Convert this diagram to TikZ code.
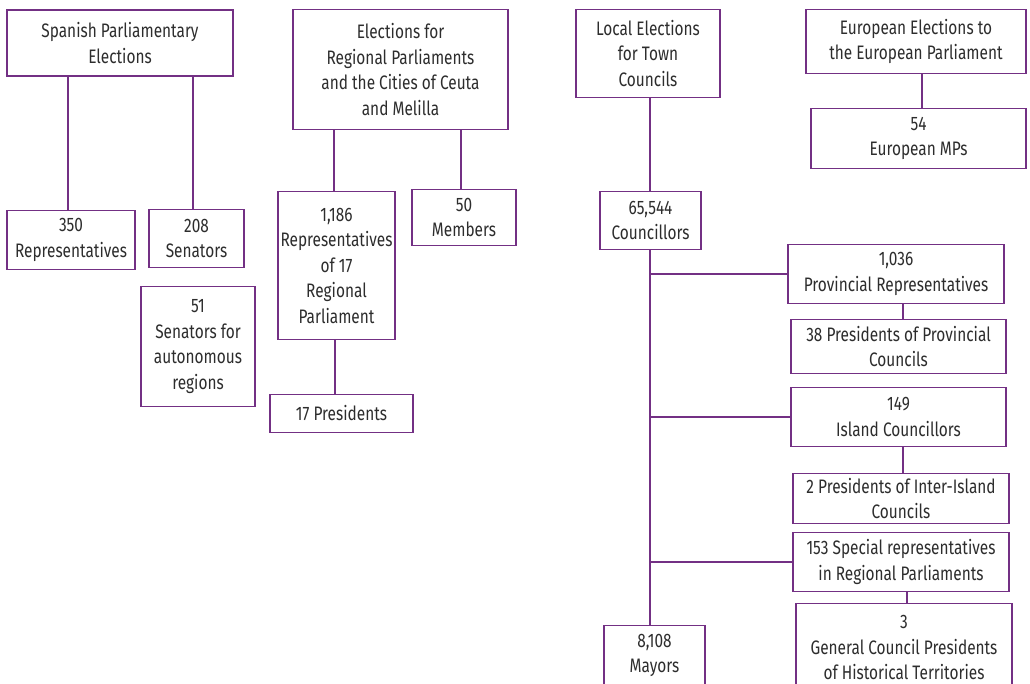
\documentclass[tikz,border=0pt]{standalone}
\usepackage{fontspec}
\setmainfont{Fira Sans}[FakeStretch=0.79]
\definecolor{frame}{RGB}{115,48,132}
\definecolor{txt}{RGB}{45,45,45}
\tikzset{
  box/.style={draw=frame, line width=1.6pt, fill=white, align=center, text=txt,
    inner sep=0pt, font=\fontsize{19.5}{25.5}\selectfont},
  link/.style={draw=frame, line width=1.6pt}
}
\begin{document}
\begin{tikzpicture}[x=1pt,y=-1pt]
\useasboundingbox (0,0) rectangle (1030,683);
\clip (0,0) rectangle (1030,683);
% first column
\node[box, minimum width=226pt, minimum height=66pt] (spe) at (120,43) {Spanish Parliamentary\\Elections};
\node[box, minimum width=128pt, minimum height=59pt] (rep) at (71,240) {350\\Representatives};
\node[box, minimum width=95pt, minimum height=58pt] (sen) at (196.5,238.5) {208\\Senators};
\node[box, minimum width=114pt, minimum height=120pt] (aut) at (198,346.5) {51\\Senators for\\autonomous\\regions};
% second column
\node[box, minimum width=215pt, minimum height=120pt] (reg) at (400.5,69.5) {Elections for\\Regional Parliaments\\and the Cities of Ceuta\\and Melilla};
\node[box, minimum width=117pt, minimum height=148pt] (rrep) at (336.5,265.5) {1,186\\Representatives\\of 17\\Regional\\Parliament};
\node[box, minimum width=104pt, minimum height=56pt] (mem) at (464,217.5) {50\\Members};
\node[box, minimum width=143pt, minimum height=38pt] (pres) at (341.5,413.5) {17 Presidents};
% third column
\node[box, minimum width=144pt, minimum height=88pt] (loc) at (648,53.5) {Local Elections\\for Town\\Councils};
\node[box, minimum width=101pt, minimum height=58pt] (cou) at (650.5,220.5) {65,544\\Councillors};
\node[box, minimum width=101pt, minimum height=60pt] (may) at (654.5,655.5) {8,108\\Mayors};
\node[box, minimum width=216pt, minimum height=59pt] (prov) at (896,274) {1,036\\Provincial Representatives};
\node[box, minimum width=215pt, minimum height=54pt] (pprov) at (898.5,346.5) {38 Presidents of Provincial\\Councils};
\node[box, minimum width=215pt, minimum height=59pt] (isl) at (898.5,417) {149\\Island Councillors};
\node[box, minimum width=216pt, minimum height=50pt] (pisl) at (901,498.5) {2 Presidents of Inter-Island\\Councils};
\node[box, minimum width=216pt, minimum height=59pt] (spec) at (901,562) {153 Special representatives\\in Regional Parliaments};
\node[box, minimum width=216pt, minimum height=88pt] (gen) at (904,647.5) {3\\General Council Presidents\\of Historical Territories};
% fourth column
\node[box, minimum width=220pt, minimum height=64pt] (eur) at (916,41.5) {European Elections to\\the European Parliament};
\node[box, minimum width=215pt, minimum height=60pt] (mps) at (918.5,138.5) {54\\European MPs};
% connectors
\draw[link] (spe.south -| 68,0) -- (rep.north -| 68,0);
\draw[link] (spe.south -| 193,0) -- (sen.north -| 193,0);
\draw[link] (reg.south -| 334,0) -- (rrep.north -| 334,0);
\draw[link] (reg.south -| 461,0) -- (mem.north -| 461,0);
\draw[link] (rrep.south -| 335,0) -- (pres.north -| 335,0);
\draw[link] (loc.south -| 650,0) -- (cou.north -| 650,0);
\draw[link] (cou.south -| 650,0) -- (may.north -| 650,0);
\draw[link] (prov.west -| 650,0) -- (prov.west);
\draw[link] (isl.west -| 650,0) -- (isl.west);
\draw[link] (spec.west -| 650,0) -- (spec.west);
\draw[link] (prov.south -| 903,0) -- (pprov.north -| 903,0);
\draw[link] (isl.south -| 903,0) -- (pisl.north -| 903,0);
\draw[link] (spec.south -| 907,0) -- (gen.north -| 907,0);
\draw[link] (eur.south -| 922,0) -- (mps.north -| 922,0);
\end{tikzpicture}
\end{document}
